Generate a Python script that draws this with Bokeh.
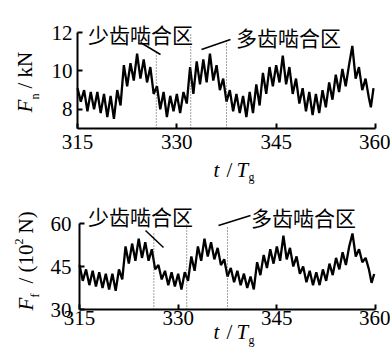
import math
from bokeh.plotting import figure
from bokeh.models import Range1d, Label, Arrow
from bokeh.layouts import column
from bokeh.embed import file_html
from bokeh.resources import INLINE

# ---------------- data ----------------
t_n = [315, 315.5, 316, 316.5, 317, 317.5, 318, 318.5, 319, 319.5, 320, 320.5,
       321, 321.5, 322, 322.5, 323, 323.5, 324, 324.5, 325, 325.5, 326, 326.5,
       327, 327.5, 328, 328.5, 329, 329.5, 330, 330.5, 331, 331.5, 332, 332.5,
       333, 333.5, 334, 334.5, 335, 335.5, 336, 336.5, 337, 337.5, 338, 338.5,
       339, 339.5, 340, 340.5, 341, 341.5, 342, 342.5, 343, 343.5, 344, 344.5,
       345, 345.5, 346, 346.5, 347, 347.5, 348, 348.5, 349, 349.5, 350, 350.5,
       351, 351.5, 352, 352.5, 353, 353.5, 354, 354.5, 355, 355.5, 356, 356.5,
       357, 357.5, 358, 358.5, 359, 359.3, 359.7]
fn = [9.1, 8.4, 9.0, 7.9, 8.9, 8.0, 8.9, 7.8, 8.8, 7.6, 8.7, 7.5,
      9.0, 8.2, 10.3, 9.2, 10.4, 9.5, 10.9, 9.6, 10.6, 9.4, 10.2, 8.8,
      9.2, 8.0, 8.9, 7.6, 8.7, 7.9, 8.8, 7.8, 8.9, 8.3, 10.2, 8.8,
      10.5, 9.3, 10.6, 9.4, 10.9, 9.5, 10.3, 9.0, 9.6, 8.4, 9.0, 7.9,
      8.8, 7.8, 8.7, 7.6, 8.9, 7.8, 9.3, 8.2, 9.9, 8.8, 10.2, 9.2,
      10.3, 9.4, 10.8, 9.3, 10.2, 8.8, 9.6, 8.3, 9.1, 7.9, 8.9, 7.7,
      8.8, 7.8, 9.0, 8.1, 9.4, 8.5, 9.8, 8.9, 10.1, 9.2, 10.3, 11.3,
      9.6, 10.2, 9.0, 9.6, 8.6, 8.1, 9.1]

t_f = [315, 315.5, 316, 316.5, 317, 317.5, 318, 318.5, 319, 319.5, 320, 320.5,
       321, 321.5, 322, 322.5, 323, 323.5, 324, 324.5, 325, 325.5, 326, 326.5,
       327, 327.5, 328, 328.5, 329, 329.5, 330, 330.5, 331, 331.5, 332, 332.5,
       333, 333.5, 334, 334.5, 335, 335.5, 336, 336.5, 337, 337.5, 338, 338.5,
       339, 339.5, 340, 340.5, 341, 341.5, 342, 342.5, 343, 343.5, 344, 344.5,
       345, 345.5, 346, 346.5, 347, 347.5, 348, 348.5, 349, 349.5, 350, 350.5,
       351, 351.5, 352, 352.5, 353, 353.5, 354, 354.5, 355, 355.5, 356, 356.5,
       357, 357.5, 358, 358.5, 359, 359.4, 359.8]
ff = [45.5, 40.0, 44.0, 38.5, 43.5, 38.0, 43.0, 37.5, 42.5, 37.0, 42.5, 36.5,
      44.0, 40.5, 52.0, 46.0, 53.0, 47.0, 54.7, 48.0, 53.5, 47.0, 51.0, 44.0,
      45.5, 40.5, 43.5, 38.5, 43.0, 38.0, 42.5, 37.0, 43.0, 40.0, 48.5, 43.5,
      52.0, 47.0, 54.7, 48.5, 53.5, 47.5, 51.5, 45.5, 47.5, 41.5, 44.5, 39.5,
      43.5, 38.5, 42.5, 37.5, 41.5, 37.0, 46.5, 42.0, 49.0, 44.5, 51.0, 46.0,
      52.0, 47.0, 55.8, 47.5, 51.5, 45.0, 48.5, 42.5, 45.0, 39.5, 43.5, 38.5,
      43.0, 38.5, 44.0, 40.0, 46.0, 42.0, 48.0, 44.0, 50.0, 45.5, 52.0, 56.5,
      48.5, 51.0, 46.5, 48.0, 44.0, 39.3, 42.4]

x_ticks = [315, 330, 345, 360]
fn_ticks = [8, 10, 12]
ff_ticks = [30, 45, 60]
zones_n = [326.9, 332.1, 337.5]
zones_f = [326.3, 331.3, 337.5]
zone_labels = ["少齿啮合区", "多齿啮合区"]

SERIF = "Liberation Serif"
CJK = "Noto Sans CJK SC"
W = 390
X0 = 0  # the page renders from its top-left corner


def mapper(px0, px1, py0, py1, x0, x1, y_top, y_bot):
    def mx(px):
        return x0 + (px - px0) * (x1 - x0) / (px1 - px0)

    def my(py):
        return y_top - (py - py0) * (y_top - y_bot) / (py1 - py0)
    return mx, my


def make_fig(page_top, page_bot, mx, my, xb, yb, yticks, xstand, ystand):
    p = figure(width=W, height=page_bot - page_top,
               x_range=Range1d(mx(X0), mx(X0 + W)),
               y_range=Range1d(my(page_bot), my(page_top)),
               output_backend="svg", toolbar_location=None,
               min_border=0, min_border_left=0, min_border_right=0,
               min_border_top=0, min_border_bottom=0)
    p.xgrid.visible = False
    p.ygrid.visible = False
    p.outline_line_color = None
    p.xaxis.ticker = x_ticks
    p.yaxis.ticker = yticks
    p.xaxis.fixed_location = yb[0]
    p.yaxis.fixed_location = xb[0]
    p.xaxis.bounds = xb
    p.yaxis.bounds = yb
    for ax in (p.xaxis[0], p.yaxis[0]):
        ax.axis_line_width = 2
        ax.axis_line_color = "black"
        ax.major_tick_in = 5
        ax.major_tick_out = 0
        ax.major_tick_line_width = 2
        ax.major_tick_line_color = "black"
        ax.minor_tick_line_color = None
        ax.major_label_text_font = SERIF
        ax.major_label_text_font_size = "21px"
        ax.major_label_text_color = "black"
    p.xaxis.major_label_standoff = xstand
    p.yaxis.major_label_standoff = ystand
    return p


def add_label(p, x, y, text, font=SERIF, size="21px", style="normal",
              align="left", baseline="middle", angle=0.0):
    p.add_layout(Label(x=x, y=y, text=text, text_font=font, text_font_size=size,
                       text_font_style=style, text_align=align,
                       text_baseline=baseline, angle=angle, text_color="black"))


def add_leader(p, xa, ya, xb, yb):
    p.add_layout(Arrow(end=None, x_start=xa, y_start=ya, x_end=xb, y_end=yb,
                       line_color="black", line_width=1.5))


up = math.pi / 2

# ---------------- top: F_n ----------------
mx1, my1 = mapper(77, 375, 32, 128, 315, 360, 12, 7)
p1 = make_fig(0, 185, mx1, my1, (315, 360), (7, 12), fn_ticks, 6, 5)
p1.line(t_n, fn, line_color="black", line_width=2.3)
p1.segment(x0=zones_n, y0=[7] * 3, x1=zones_n,
           y1=[my1(50), my1(32), my1(38)],
           line_color="#444444", line_width=1, line_dash="1 2")
add_label(p1, mx1(140), my1(33), zone_labels[0], font=CJK, size="21px", align="center")
add_label(p1, mx1(288), my1(36), zone_labels[1], font=CJK, size="21px", align="center")
add_leader(p1, mx1(140), my1(42), mx1(160), my1(54))
add_leader(p1, mx1(201), my1(49), mx1(230), my1(39))
add_label(p1, mx1(24), my1(112), "F", style="italic", angle=up)
add_label(p1, mx1(34), my1(99), "n", size="12px", angle=up)
add_label(p1, mx1(24), my1(88), "/ kN", angle=up)
add_label(p1, mx1(213), my1(169), "t", style="italic")
add_label(p1, mx1(226), my1(169), "/")
add_label(p1, mx1(236), my1(169), "T", style="italic")
add_label(p1, mx1(248), my1(176), "g", size="12px")

# ---------------- bottom: F_f ----------------
mx2, my2 = mapper(79, 375, 223, 309, 315, 360, 60, 30)
p2 = make_fig(185, 360, mx2, my2, (315, 360), (30, 60), ff_ticks, 1, 8)
p2.line(t_f, ff, line_color="black", line_width=2.3)
p2.segment(x0=zones_f, y0=[30] * 3, x1=zones_f,
           y1=[my2(233), my2(223), my2(225)],
           line_color="#444444", line_width=1, line_dash="1 2")
add_label(p2, mx2(140), my2(215), zone_labels[0], font=CJK, size="21px", align="center")
add_label(p2, mx2(303), my2(216), zone_labels[1], font=CJK, size="21px", align="center")
add_leader(p2, mx2(145), my2(230), mx2(163), my2(247))
add_leader(p2, mx2(218), my2(225), mx2(250), my2(215))
add_label(p2, mx2(25), my2(310), "F", style="italic", angle=up)
add_label(p2, mx2(34), my2(297), "f", size="12px", angle=up)
add_label(p2, mx2(25), my2(283), "/ (10", angle=up)
add_label(p2, mx2(18), my2(244), "2", size="12px", angle=up)
add_label(p2, mx2(25), my2(233), "N)", angle=up)
add_label(p2, mx2(213), my2(331), "t", style="italic")
add_label(p2, mx2(226), my2(331), "/")
add_label(p2, mx2(236), my2(331), "T", style="italic")
add_label(p2, mx2(248), my2(339), "g", size="12px")

layout = column(p1, p2)
open("out.html", "w").write(file_html(layout, INLINE))
